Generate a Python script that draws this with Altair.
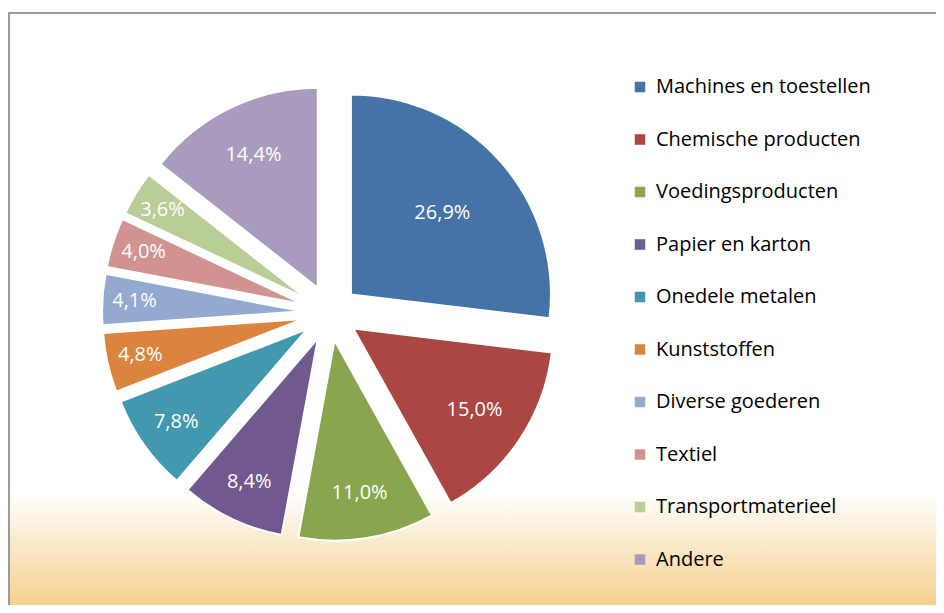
import altair as alt
import pandas as pd

categories = ["Machines en toestellen", "Chemische producten", "Voedingsproducten",
              "Papier en karton", "Onedele metalen", "Kunststoffen", "Diverse goederen",
              "Textiel", "Transportmaterieel", "Andere"]
values = [26.9, 15.0, 11.0, 8.4, 7.8, 4.8, 4.1, 4.0, 3.6, 14.4]
colors = ["#4572A7", "#AA4643", "#89A54E", "#71588F", "#4198AF",
          "#DB843D", "#93A9CF", "#D19392", "#B9CD96", "#A99BBD"]
labels = [f"{v:.1f}".replace(".", ",") + "%" for v in values]

W, H = 928, 597
CX, CY = 322, 305      # pie centre (px)
EXPLODE = 28           # explosion distance (px)
R = 200                # slice radius (px)
FONT = "Open Sans"

df = pd.DataFrame({"cat": categories, "value": values, "label": labels,
                   "order": list(range(len(values)))})

base = alt.Chart(df).transform_joinaggregate(
    total="sum(value)"
).transform_window(
    cum="sum(value)", sort=[alt.SortField("order")], frame=[None, 0]
).transform_calculate(
    f1="datum.cum / datum.total",
    f0="(datum.cum - datum.value) / datum.total",
    fm="(datum.cum - datum.value / 2) / datum.total",
    frac="datum.value / datum.total",
).transform_calculate(
    ox="sin(datum.fm * 2 * PI)",
    oy="-cos(datum.fm * 2 * PI)",
    lr=f"{R} * (0.88 - datum.frac)",
)

xs = alt.Scale(domain=[-1, 1], range=[CX - EXPLODE, CX + EXPLODE])
ys = alt.Scale(domain=[-1, 1], range=[CY - EXPLODE, CY + EXPLODE])
ts = alt.Scale(domain=[0, 1], range=[0, 6.283185307179586])

arcs = base.mark_arc(radius=R, stroke="white", strokeWidth=2).encode(
    x=alt.X("ox:Q", scale=xs, axis=None),
    y=alt.Y("oy:Q", scale=ys, axis=None),
    theta=alt.Theta("f0:Q", scale=ts, stack=None),
    theta2="f1:Q",
    color=alt.Color("cat:N", scale=alt.Scale(domain=categories, range=colors),
                    legend=alt.Legend(orient="none", legendX=622, legendY=69, title=None,
                                      symbolType="square", symbolSize=110,
                                      symbolStrokeWidth=0,
                                      labelFontSize=20, labelFont=FONT, labelColor="#000000",
                                      labelOffset=6, labelLimit=400,
                                      rowPadding=32.5, clipHeight=20)),
    order=alt.Order("order:Q"),
)

texts = base.mark_text(font=FONT, fontSize=20, color="white").encode(
    x=alt.X("ox:Q", scale=xs, axis=None),
    y=alt.Y("oy:Q", scale=ys, axis=None),
    theta=alt.Theta("fm:Q", scale=ts, stack=None),
    radius=alt.Radius("lr:Q", scale=None),
    text="label:N",
)

bg = alt.Chart(pd.DataFrame({"a": [0]})).mark_rect(
    fill=alt.LinearGradient(
        gradient="linear", x1=0, y1=0, x2=0, y2=1,
        stops=[alt.GradientStop(offset=0, color="#FFFFFF"),
               alt.GradientStop(offset=0.81, color="#FFFFFF"),
               alt.GradientStop(offset=1, color="#F5D18E")])
).encode(x=alt.value(0), x2=alt.value(W), y=alt.value(0), y2=alt.value(H))

border_top = alt.Chart(pd.DataFrame({"a": [0]})).mark_rule(color="#9A9A9A", strokeWidth=2).encode(
    x=alt.value(0), x2=alt.value(W), y=alt.value(5))
border_left = alt.Chart(pd.DataFrame({"a": [0]})).mark_rule(color="#9A9A9A", strokeWidth=2).encode(
    x=alt.value(1), y=alt.value(5), y2=alt.value(H))

chart = alt.layer(bg, border_top, border_left, arcs, texts).properties(
    width=W, height=H, autosize=alt.AutoSizeParams(type="none"), padding=0
).configure_view(stroke=None)

chart.save("out.html", embed_options={"renderer": "svg", "actions": False})
